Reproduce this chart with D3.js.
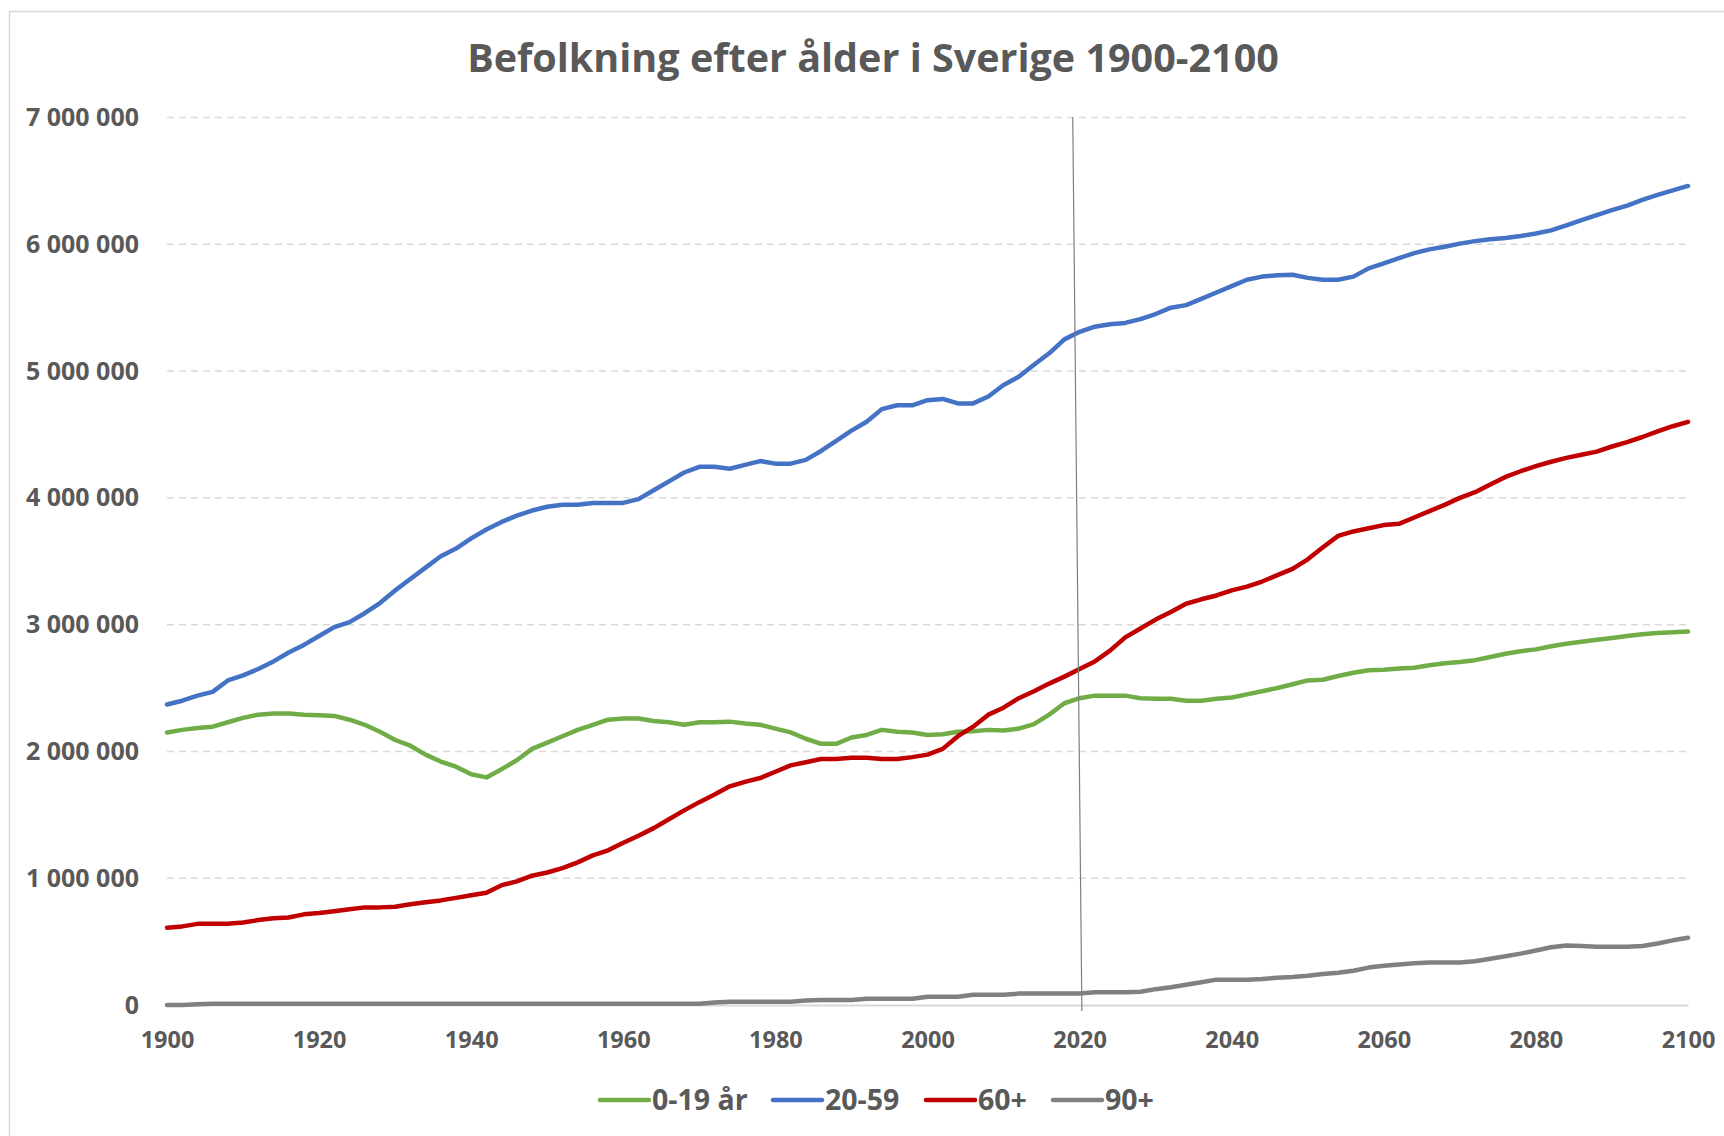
<!DOCTYPE html>
<html>
<head>
<meta charset="utf-8">
<script src="https://cdn.jsdelivr.net/npm/d3@7/dist/d3.min.js"></script>
<style>
  body { margin: 0; background: #fff; }
  svg { display: block; }
  text { font-family: "Open Sans", "Liberation Sans", sans-serif; fill: #595959; font-weight: bold; }
</style>
</head>
<body>
<svg id="chart"></svg>
<script>
// Every second year
const years = d3.range(1900, 2101, 2);

// Population in millions per age group
const age0to19 = [
  2.15, 2.17, 2.185, 2.195, 2.23, 2.265, 2.29, 2.30, 2.30, 2.29,
  2.285, 2.28, 2.25, 2.21, 2.155, 2.09, 2.045, 1.975, 1.92, 1.88,
  1.82, 1.795, 1.86, 1.93, 2.02, 2.07, 2.12, 2.17, 2.21, 2.25,
  2.26, 2.26, 2.24, 2.23, 2.21, 2.23, 2.23, 2.235, 2.22, 2.21,
  2.18, 2.15, 2.10, 2.06, 2.06, 2.11, 2.13, 2.17, 2.155, 2.15,
  2.13, 2.135, 2.155, 2.16, 2.17, 2.165, 2.18, 2.215, 2.29, 2.38,
  2.42, 2.44, 2.44, 2.44, 2.42, 2.415, 2.415, 2.40, 2.40, 2.415,
  2.425, 2.45, 2.475, 2.50, 2.53, 2.56, 2.565, 2.595, 2.62, 2.64,
  2.645, 2.655, 2.66, 2.68, 2.695, 2.705, 2.72, 2.745, 2.77, 2.79,
  2.805, 2.83, 2.85, 2.865, 2.88, 2.895, 2.91, 2.925, 2.935, 2.94,
  2.945
];
const age20to59 = [
  2.37, 2.40, 2.44, 2.47, 2.56, 2.60, 2.65, 2.71, 2.78, 2.84,
  2.91, 2.98, 3.02, 3.09, 3.17, 3.27, 3.36, 3.45, 3.54, 3.60,
  3.68, 3.75, 3.81, 3.86, 3.90, 3.93, 3.945, 3.945, 3.96, 3.96,
  3.96, 3.99, 4.06, 4.13, 4.20, 4.245, 4.245, 4.23, 4.26, 4.29,
  4.27, 4.27, 4.30, 4.37, 4.45, 4.53, 4.60, 4.70, 4.73, 4.73,
  4.77, 4.78, 4.745, 4.745, 4.80, 4.89, 4.955, 5.05, 5.14, 5.25,
  5.31, 5.35, 5.37, 5.38, 5.41, 5.45, 5.50, 5.52, 5.57, 5.62,
  5.67, 5.72, 5.745, 5.755, 5.76, 5.735, 5.72, 5.72, 5.745, 5.81,
  5.85, 5.89, 5.93, 5.96, 5.98, 6.005, 6.025, 6.04, 6.05, 6.065,
  6.085, 6.11, 6.15, 6.19, 6.23, 6.27, 6.305, 6.35, 6.39, 6.425,
  6.46
];
const age60plus = [
  0.61, 0.62, 0.64, 0.64, 0.64, 0.65, 0.67, 0.685, 0.69, 0.715,
  0.725, 0.74, 0.755, 0.77, 0.77, 0.775, 0.795, 0.81, 0.825, 0.845,
  0.865, 0.885, 0.945, 0.975, 1.02, 1.045, 1.08, 1.125, 1.18, 1.22,
  1.28, 1.335, 1.395, 1.465, 1.535, 1.60, 1.66, 1.725, 1.76, 1.79,
  1.84, 1.89, 1.915, 1.94, 1.94, 1.95, 1.95, 1.94, 1.94, 1.955,
  1.975, 2.02, 2.12, 2.195, 2.29, 2.345, 2.42, 2.475, 2.535, 2.59,
  2.65, 2.71, 2.795, 2.90, 2.97, 3.04, 3.10, 3.165, 3.20, 3.23,
  3.27, 3.30, 3.34, 3.39, 3.44, 3.515, 3.61, 3.70, 3.735, 3.76,
  3.785, 3.795, 3.845, 3.895, 3.945, 4.00, 4.045, 4.105, 4.165, 4.21,
  4.25, 4.285, 4.315, 4.34, 4.365, 4.405, 4.44, 4.48, 4.525, 4.565,
  4.60
];
const age90plus = [
  0.0, 0.0, 0.005, 0.01, 0.01, 0.01, 0.01, 0.01, 0.01, 0.01,
  0.01, 0.01, 0.01, 0.01, 0.01, 0.01, 0.01, 0.01, 0.01, 0.01,
  0.01, 0.01, 0.01, 0.01, 0.01, 0.01, 0.01, 0.01, 0.01, 0.01,
  0.01, 0.01, 0.01, 0.01, 0.01, 0.01, 0.02, 0.025, 0.025, 0.025,
  0.025, 0.025, 0.035, 0.04, 0.04, 0.04, 0.05, 0.05, 0.05, 0.05,
  0.065, 0.065, 0.065, 0.08, 0.08, 0.08, 0.09, 0.09, 0.09, 0.09,
  0.09, 0.10, 0.10, 0.10, 0.105, 0.125, 0.14, 0.16, 0.18, 0.20,
  0.20, 0.20, 0.205, 0.215, 0.22, 0.23, 0.245, 0.255, 0.27, 0.295,
  0.31, 0.32, 0.33, 0.335, 0.335, 0.335, 0.345, 0.365, 0.385, 0.405,
  0.43, 0.455, 0.47, 0.465, 0.46, 0.46, 0.46, 0.465, 0.485, 0.51,
  0.53
];

const seriesNames = ["0-19 år", "20-59", "60+", "90+"];
const seriesColors = ["#70ad47", "#4472c4", "#c00000", "#808080"];
const seriesValues = [age0to19, age20to59, age60plus, age90plus];

const yTicks = [0, 1e6, 2e6, 3e6, 4e6, 5e6, 6e6, 7e6];
const xTicks = [1900, 1920, 1940, 1960, 1980, 2000, 2020, 2040, 2060, 2080, 2100];
const markerYear = [2019.1, 2020.3]; // vertical line, top and bottom

const title = "Befolkning efter ålder i Sverige 1900-2100";

const width = 1724, height = 1136;
const margin = { top: 117.5, right: 36, bottom: 131, left: 167 };

const svg = d3.select("#chart").attr("width", width).attr("height", height);

// outer chart border (only left/top edges are visible in the original)
svg.append("rect")
  .attr("x", 9.5).attr("y", 11.5)
  .attr("width", width + 20).attr("height", height + 20)
  .attr("fill", "none").attr("stroke", "#d9d9d9").attr("stroke-width", 1.5);

const x = d3.scaleLinear().domain([1900, 2100]).range([margin.left, width - margin.right]);
const y = d3.scaleLinear().domain([0, 7e6]).range([height - margin.bottom, margin.top]);

const sv = d3.formatLocale({ decimal: ",", thousands: " ", grouping: [3], currency: ["", " kr"] });
const fmt = sv.format(",");

// gridlines
svg.append("g")
  .selectAll("line")
  .data(yTicks.filter(d => d > 0))
  .join("line")
  .attr("x1", x(1900)).attr("x2", x(2100))
  .attr("y1", d => y(d)).attr("y2", d => y(d))
  .attr("stroke", "#d9d9d9").attr("stroke-width", 1.5)
  .attr("stroke-dasharray", "7,5");

// y axis labels
const yAxis = svg.append("g")
  .attr("transform", `translate(${x(1900) - 28},0)`)
  .call(d3.axisLeft(y).tickValues(yTicks).tickFormat(fmt).tickSize(0).tickPadding(0));
yAxis.select(".domain").remove();
yAxis.selectAll("text").attr("font-size", 25).attr("fill", "#595959").attr("font-family", null);

// x axis (baseline + labels)
const xAxis = svg.append("g")
  .attr("transform", `translate(0,${y(0)})`)
  .call(d3.axisBottom(x).tickValues(xTicks).tickFormat(d3.format("d")).tickSize(0).tickPadding(26));
xAxis.select(".domain").attr("stroke", "#d9d9d9").attr("stroke-width", 2);
xAxis.selectAll("text").attr("font-size", 23.5).attr("fill", "#595959").attr("font-family", null);

// lines
const line = d3.line()
  .x((d, i) => x(years[i]))
  .y(d => y(d * 1e6));

svg.append("g")
  .selectAll("path")
  .data(seriesValues)
  .join("path")
  .attr("d", d => line(d))
  .attr("fill", "none")
  .attr("stroke", (d, i) => seriesColors[i])
  .attr("stroke-width", 4.5)
  .attr("stroke-linejoin", "round")
  .attr("stroke-linecap", "round");

// the slightly slanted marker line at 2020
svg.append("line")
  .attr("x1", x(markerYear[0])).attr("y1", y(7e6))
  .attr("x2", x(markerYear[1])).attr("y2", y(0) + 6)
  .attr("stroke", "#7f7f7f").attr("stroke-width", 1.2);

// title
svg.append("text")
  .attr("x", 873).attr("y", 72)
  .attr("text-anchor", "middle")
  .attr("font-size", 39.5)
  .text(title);

// legend
const legendX = [600, 773, 926, 1053];
const leg = svg.append("g").attr("transform", "translate(0,1100)");
const items = leg.selectAll("g").data(seriesNames).join("g")
  .attr("transform", (d, i) => `translate(${legendX[i]},0)`);
items.append("line")
  .attr("x1", 0).attr("x2", 49).attr("y1", 0).attr("y2", 0)
  .attr("stroke", (d, i) => seriesColors[i]).attr("stroke-width", 4.5)
  .attr("stroke-linecap", "round");
items.append("text")
  .attr("x", 52).attr("y", 10)
  .attr("font-size", 28.5)
  .text(d => d);
</script>
</body>
</html>
